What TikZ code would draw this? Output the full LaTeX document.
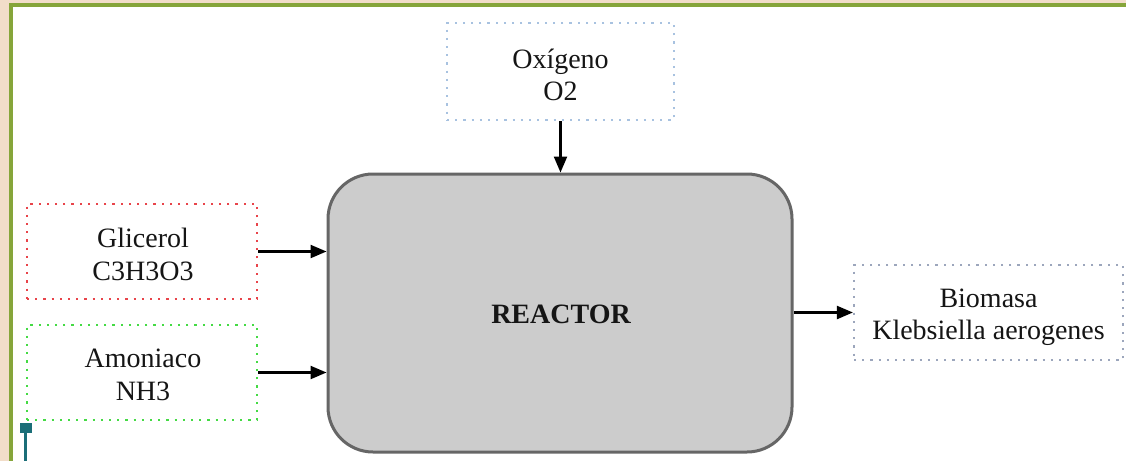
\documentclass[tikz,border=0pt]{standalone}
\usepackage{fontspec}
\setmainfont{Liberation Serif}
\usetikzlibrary{arrows.meta}
\definecolor{beige}{HTML}{F2DDC9}
\definecolor{frame}{HTML}{86A53A}
\definecolor{oxblue}{HTML}{A8C2E0}
\definecolor{glred}{HTML}{E8444A}
\definecolor{amgreen}{HTML}{44DA44}
\definecolor{biogray}{HTML}{9CA6BC}
\definecolor{reactfill}{HTML}{CCCCCC}
\definecolor{reactline}{HTML}{666666}
\definecolor{teal}{HTML}{1B6E78}
\definecolor{txt}{HTML}{151515}
\begin{document}
\begin{tikzpicture}[x=1pt,y=-1pt,
  dotbox/.style={draw, line width=2.2pt, dash pattern=on 2.2pt off 6pt, inner sep=0pt},
  linetxt/.style={anchor=base, inner sep=0pt, text=txt, font=\fontsize{28}{33}\selectfont},
  arr/.style={line width=2.3pt, draw=black, -{Triangle[length=16pt,width=13pt]}}
]
\useasboundingbox (0,0) rectangle (1126,461);
% background and frame
\fill[beige] (0,0) rectangle (1126,461);
\fill[white] (13,6.5) rectangle (1126,461);
\fill[frame] (9,2.5) rectangle (1126,6.5);
\fill[frame] (9,2.5) rectangle (13,461);

% boxes
\node[dotbox, draw=oxblue, minimum width=227pt, minimum height=97pt] (oxy) at (560.5,71.5) {};
\node[dotbox, draw=glred, minimum width=230pt, minimum height=95pt] (glic) at (142,251.5) {};
\node[dotbox, draw=amgreen, minimum width=230pt, minimum height=95pt] (amon) at (142,372.5) {};
\node[dotbox, draw=biogray, minimum width=269pt, minimum height=95pt] (bio) at (988.5,312.5) {};
\node[draw=reactline, fill=reactfill, line width=3pt, rounded corners=45pt,
      minimum width=464pt, minimum height=278pt, inner sep=0pt] (reactor) at (560,313) {};

% texts
\node[linetxt] (oxyA) at (560.5,68) {Oxígeno};
\node[linetxt] (oxyB) at (560.5,100) {O2};
\node[linetxt] (glicA) at (143,247) {Glicerol};
\node[linetxt] (glicB) at (143,280) {C3H3O3};
\node[linetxt] (amonA) at (143,367) {Amoniaco};
\node[linetxt] (amonB) at (143,400) {NH3};
\node[linetxt, font=\fontsize{28}{33}\selectfont\bfseries] (reactT) at (561,323) {REACTOR};
\node[linetxt] (bioA) at (988.5,307) {Biomasa};
\node[linetxt] (bioB) at (988.5,339) {Klebsiella aerogenes};

% connectors
\draw[arr] (oxy.south) -- (oxy.south |- reactor.north);
\draw[arr] (glic.east) -- (glic.east -| reactor.west);
\draw[arr] (amon.east) -- (amon.east -| reactor.west);
\draw[arr] (reactor.east |- bio.west) -- (bio.west);

% teal marker
\fill[teal] (20,423) rectangle (32,433);
\draw[teal, line width=2.5pt] (25.5,433) -- (25.5,461);
\end{tikzpicture}
\end{document}
